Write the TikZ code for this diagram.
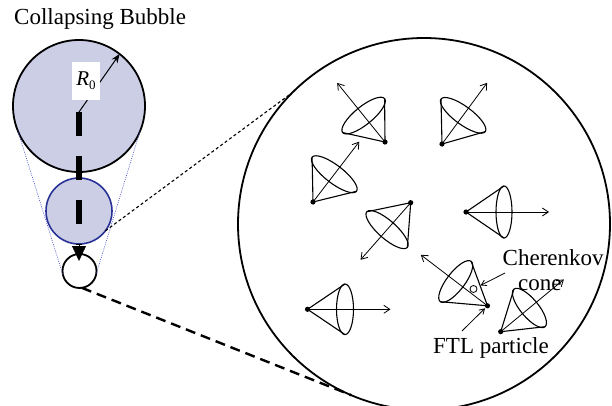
\documentclass[tikz,border=0pt]{standalone}
\usepackage{fontspec}
\setmainfont{Liberation Serif}
\usetikzlibrary{arrows.meta}
\definecolor{bubblefill}{RGB}{204,206,230}
\definecolor{bubbleblue}{RGB}{40,50,150}
\definecolor{tanblue}{RGB}{70,80,200}
\tikzset{
  conestroke/.style={line width=1.1pt},
  conearrow/.style={line width=0.8pt,-{Straight Barb[length=6pt,width=8pt]}},
  ptr/.style={line width=0.8pt,-{Straight Barb[length=5pt,width=6pt]}},
  lbl/.style={inner sep=0pt,font=\fontsize{23}{25}\selectfont},
  tanline/.style={tanblue,line width=0.6pt,dash pattern=on 1pt off 1.2pt},
  finedash/.style={line width=1.1pt,dash pattern=on 3pt off 2.5pt},
  thickdash/.style={line width=2.4pt,dash pattern=on 10pt off 6pt},
}
\newcommand\ftlcone[8]{%
  \begin{scope}[shift={(#1,-#2)},rotate=#3]
    \coordinate (#8) at (0,0);
    \draw[conestroke] (#4,#5) -- (0,0) -- (#4,-#5);
    \draw[conestroke] (#4,0) ellipse [x radius=#6, y radius=#5];
    \draw[conearrow] (0,0) -- (#7,0);
    \fill (0,0) circle (2.6);
  \end{scope}}
\begin{document}
\begin{tikzpicture}[x=1pt,y=1pt]
\useasboundingbox (0,0) rectangle (612,-406);
% title
\node[lbl,anchor=base west] (title) at (14,-25) {Collapsing Bubble};
% bubbles
\node[circle,draw,line width=1.8pt,fill=bubblefill,minimum size=132pt,inner sep=0pt,outer sep=0pt] (big) at (79,-106) {};
\node[circle,draw=bubbleblue,line width=1.6pt,fill=bubblefill,minimum size=66pt,inner sep=0pt,outer sep=0pt] (blue) at (79,-211) {};
\node[circle,draw,line width=1.8pt,minimum size=34pt,inner sep=0pt,outer sep=0pt] (small) at (79.5,-271) {};
\draw[tanline] (big.202) -- (small.196);
\draw[tanline] (big.-22) -- (small.-10);
% collapse arrow
\coordinate (rstart) at (79,-112);
\coordinate (dend) at (79,-245);
\coordinate (atip) at (79,-261);
\draw[line width=6.5pt,dash pattern=on 24pt off 20pt] (rstart) -- (dend);
\draw[line width=0.4pt,-{Triangle[length=15pt,width=14pt]}] (dend) -- (atip);
% radius
\draw[line width=1pt,-{Stealth[length=9pt,width=7pt]}] (rstart) -- (big.52);
\node[fill=white,inner sep=0pt,minimum width=28pt,minimum height=38pt] (rlbl) at (86,-81)
  {\fontsize{21}{21}\selectfont\textit{R}\raisebox{-4pt}{\fontsize{13}{13}\selectfont 0}};
% zoomed region
\node[circle,draw,line width=1.8pt,minimum size=372pt,inner sep=0pt,outer sep=0pt] (zoom) at (424,-224) {};
\draw[finedash] (blue.-37) -- (zoom.135);
\draw[thickdash] (small.-82) -- (zoom.247);
% cones: x, y, angle, h, a, b, L, name
\ftlcone{385}{142}{129}{34}{27}{9}{76}{apexA}
\ftlcone{442}{144}{53.6}{35.6}{27.5}{9}{76}{apexB}
\ftlcone{313}{202}{52.5}{35}{28}{9}{76}{apexC}
\ftlcone{410.7}{202.7}{228.7}{35.8}{27}{9}{76}{apexD}
\ftlcone{466}{212}{0}{38}{26}{8}{83}{apexE}
\ftlcone{307.5}{309.3}{0}{37.5}{25.3}{8.5}{83}{apexF}
\ftlcone{487.5}{305.8}{142.6}{40}{25.4}{9}{84}{apexG}
\ftlcone{500.7}{331.7}{39.6}{37.3}{24.4}{9}{82}{apexH}
% labels
\node[lbl,anchor=base west] (cher) at (502.5,-265) {Cherenkov};
\node[lbl,anchor=base west] (conelbl) at (518,-290) {cone};
\node[lbl,anchor=base west] (ftl) at (433,-353) {FTL particle};
\node[circle,draw,line width=0.8pt,minimum size=7pt,inner sep=0pt] (angmark) at (473.5,-289) {};
\coordinate (cherp) at (505,-273);
\draw[ptr,shorten >=4pt] (cherp) -- (angmark);
\coordinate (ftlp) at (462,-331);
\draw[ptr,shorten >=3.5pt] (ftlp) -- (apexG);
\end{tikzpicture}
\end{document}
